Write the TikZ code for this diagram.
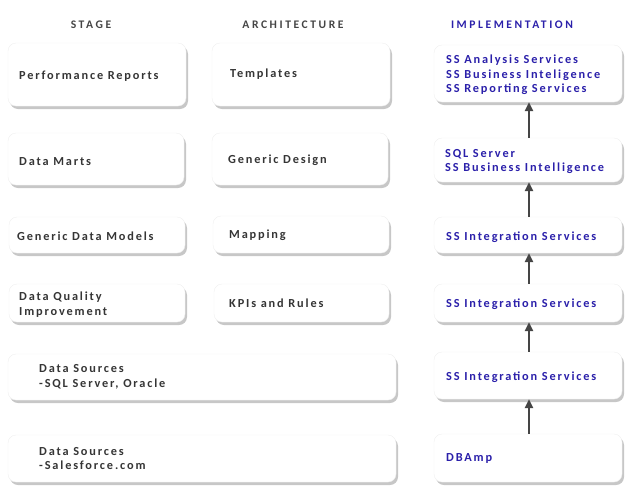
\documentclass[tikz,border=0pt]{standalone}
\usepackage{fontspec}
\setmainfont{Carlito}[LetterSpace=15]
\usetikzlibrary{shadows,arrows.meta}
\definecolor{txt}{HTML}{353535}
\definecolor{imp}{HTML}{2B20AA}
\definecolor{hdr}{HTML}{444444}
\definecolor{arr}{HTML}{454545}
\tikzset{
  box/.style={draw=black!6, fill=white, rounded corners=8pt, inner sep=0pt,
    drop shadow={shadow xshift=2pt, shadow yshift=-3pt, opacity=0.4, fill=black!55}},
  lbl/.style={anchor=west, inner sep=0pt, yshift=-1.5pt, align=left, text=txt, font=\fontsize{12.3}{14.5}\selectfont\bfseries},
  ilbl/.style={lbl, text=imp},
  hd/.style={inner sep=0pt, text=hdr, font=\fontsize{11.6}{13}\selectfont\bfseries\addfontfeature{LetterSpace=22}},
  up/.style={draw=arr, line width=2.4pt, -{Triangle[width=8pt,length=9pt]}}
}
\begin{document}
\begin{tikzpicture}[x=1pt,y=-1pt]
\useasboundingbox (0,0) rectangle (633,504);
% headers
\node[hd] (h1) at (91,25) {STAGE};
\node[hd] (h2) at (293,25) {ARCHITECTURE};
\node[hd, text=imp] (h3) at (512,25) {IMPLEMENTATION};
% row 1
\node[box, minimum width=178pt, minimum height=63pt] (s1) at (97,74.5) {};
\node[box, minimum width=178pt, minimum height=63pt] (a1) at (301,74.5) {};
\node[box, minimum width=188pt, minimum height=57pt] (i1) at (528,73.5) {};
\node[lbl] (s1t) at (19,75) {Performance Reports};
\node[lbl] (a1t) at (230,73) {Templates};
\node[ilbl] (i1t) at (446,73.5) {SS Analysis Services\\SS Business Inteligence\\SS Reporting Services};
% row 2
\node[box, minimum width=176pt, minimum height=52pt] (s2) at (96,159) {};
\node[box, minimum width=176pt, minimum height=52pt] (a2) at (300,159) {};
\node[box, minimum width=188pt, minimum height=44pt] (i2) at (528,160) {};
\node[lbl] (s2t) at (19,160) {Data Marts};
\node[lbl] (a2t) at (228,159) {Generic Design};
\node[ilbl] (i2t) at (445,160) {SQL Server\\SS Business Intelligence};
% row 3
\node[box, minimum width=176pt, minimum height=36pt] (s3) at (97,235) {};
\node[box, minimum width=176pt, minimum height=37pt] (a3) at (301,234.5) {};
\node[box, minimum width=188pt, minimum height=36pt] (i3) at (528,235) {};
\node[lbl] (s3t) at (17,235) {Generic Data Models};
\node[lbl] (a3t) at (229,234) {Mapping};
\node[ilbl] (i3t) at (446,236) {SS Integration Services};
% row 4
\node[box, minimum width=176pt, minimum height=38pt] (s4) at (97,303) {};
\node[box, minimum width=175pt, minimum height=38pt] (a4) at (301.5,303) {};
\node[box, minimum width=188pt, minimum height=38pt] (i4) at (528,303) {};
\node[lbl] (s4t) at (19,303) {Data Quality\\Improvement};
\node[lbl] (a4t) at (229,302) {KPIs and Rules};
\node[ilbl] (i4t) at (446,303) {SS Integration Services};
% row 5
\node[box, minimum width=388pt, minimum height=46pt] (s5) at (202,377) {};
\node[box, minimum width=188pt, minimum height=47pt] (i5) at (528,375.5) {};
\node[lbl] (s5t) at (39,375.5) {Data Sources\\-SQL Server, Oracle};
\node[ilbl] (i5t) at (446,376) {SS Integration Services};
% row 6
\node[box, minimum width=388pt, minimum height=47pt] (s6) at (202,458.5) {};
\node[box, minimum width=188pt, minimum height=48pt] (i6) at (528,458) {};
\node[lbl] (s6t) at (39,457) {Data Sources\\-Salesforce.com};
\node[ilbl] (i6t) at (446,457) {DBAmp};
% arrows
\draw[up] ([xshift=1pt]i6.north) -- ([xshift=1pt]i5.south);
\draw[up] ([xshift=1pt]i5.north) -- ([xshift=1pt]i4.south);
\draw[up] ([xshift=1pt]i4.north) -- ([xshift=1pt]i3.south);
\draw[up] ([xshift=1pt]i3.north) -- ([xshift=1pt]i2.south);
\draw[up] ([xshift=1pt]i2.north) -- ([xshift=1pt]i1.south);
\end{tikzpicture}
\end{document}
